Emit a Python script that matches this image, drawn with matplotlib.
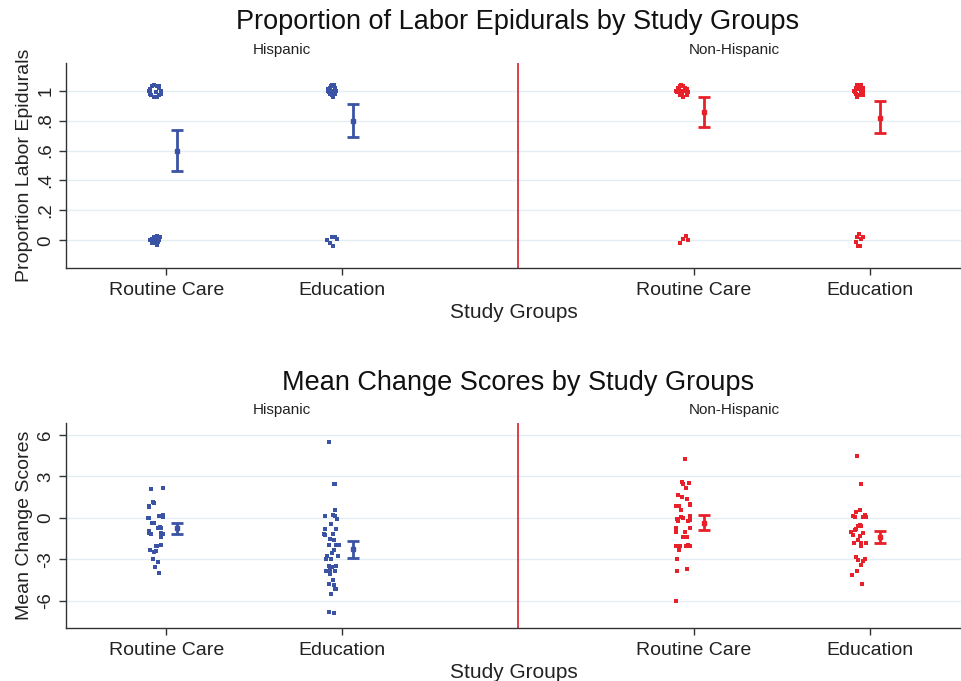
import matplotlib
matplotlib.use("Agg")
import matplotlib.pyplot as plt
import matplotlib.transforms as mtransforms

plt.rcParams['font.family'] = ['Liberation Sans', 'DejaVu Sans']

BLUE = '#3a53a4'
RED = '#e8202a'

group_labels = ['Routine Care', 'Education', 'Routine Care', 'Education']
group_pos = [1, 2, 4, 5]
ethnicity = ['Hispanic', 'Non-Hispanic']

# --- Top panel: proportion of labor epidurals (mean, CI low, CI high) ---
epi_mean = [0.60, 0.80, 0.86, 0.82]
epi_lo = [0.465, 0.688, 0.759, 0.715]
epi_hi = [0.737, 0.911, 0.956, 0.929]

# jittered raw 0/1 outcomes: (x jitter, y value)
epi_hrc_x = [-0.09, -0.08, -0.07, -0.05, -0.04, -0.03, -0.03, -0.04, -0.05, -0.07, -0.09, -0.095, -0.10, -0.085, -0.06, -0.04,
             -0.09, -0.08, -0.07, -0.06, -0.05, -0.04, -0.035, -0.05, -0.065, -0.08, -0.045, -0.055]
epi_hrc_y = [1.00, 1.03, 1.04, 1.03, 1.02, 1.00, 0.98, 0.97, 0.96, 0.96, 0.98, 1.01, 1.00, 0.97, 0.99, 1.03,
             0.00, 0.01, 0.02, 0.01, -0.01, 0.00, 0.02, 0.03, -0.02, -0.02, -0.01, -0.03]
epi_hed_x = [-0.08, -0.07, -0.06, -0.05, -0.04, -0.035, -0.04, -0.05, -0.06, -0.07, -0.08, -0.065, -0.055, -0.045, -0.075, -0.05,
             -0.085, -0.06, -0.04, -0.03, -0.07, -0.05]
epi_hed_y = [1.00, 1.02, 1.04, 1.03, 1.02, 1.00, 0.98, 0.96, 0.97, 0.98, 1.01, 1.03, 1.00, 1.04, 0.99, 0.97,
             0.00, 0.02, 0.02, 0.01, -0.02, -0.04]
epi_nrc_x = [-0.10, -0.09, -0.08, -0.07, -0.06, -0.05, -0.04, -0.035, -0.04, -0.06, -0.08, -0.095, -0.07, -0.05, -0.065, -0.085,
             -0.08, -0.06, -0.045, -0.03]
epi_nrc_y = [1.00, 1.02, 1.03, 1.04, 1.03, 1.02, 1.01, 0.99, 0.97, 0.96, 0.97, 0.99, 1.00, 1.00, 0.98, 1.01,
             -0.02, 0.01, 0.03, 0.00]
epi_ned_x = [-0.09, -0.08, -0.07, -0.06, -0.05, -0.04, -0.035, -0.045, -0.055, -0.07, -0.085, -0.06, -0.05, -0.075, -0.04,
             -0.07, -0.06, -0.05, -0.04, -0.075, -0.065, -0.055]
epi_ned_y = [1.00, 1.02, 1.04, 1.03, 1.04, 1.02, 1.00, 0.98, 0.97, 0.96, 0.99, 1.01, 1.00, 0.98, 0.97,
             0.02, 0.04, 0.01, 0.02, -0.01, -0.04, -0.04]

# --- Bottom panel: mean change scores ---
chg_mean = [-0.75, -2.24, -0.34, -1.35]
chg_lo = [-1.13, -2.92, -0.89, -1.83]
chg_hi = [-0.38, -1.64, 0.22, -0.92]

chg_hrc_x = [-0.089, -0.021, -0.076, -0.070, -0.098, -0.097, -0.040, -0.021, -0.019, -0.102, -0.097, -0.083, -0.072,
             -0.045, -0.036, -0.028, -0.100, -0.098, -0.089, -0.027, -0.021, -0.032, -0.061, -0.053, -0.027, -0.093,
             -0.070, -0.059, -0.078, -0.045, -0.066, -0.044]
chg_hrc_y = [2.07, 2.15, 1.16, 1.10, 0.87, 0.80, 0.15, 0.20, 0.05, 0.00, -0.03, -0.35, -0.40,
             -0.70, -0.66, -0.75, -0.95, -1.10, -1.13, -1.08, -1.13, -1.37, -2.00, -2.00, -1.94, -2.33,
             -2.45, -2.36, -2.97, -3.20, -3.54, -3.98]
chg_hed_x = [-0.076, -0.047, -0.042, -0.038, -0.095, -0.053, -0.042, -0.028, -0.061, -0.095, -0.032, -0.102, -0.095,
             -0.053, -0.066, -0.044, -0.076, -0.032, -0.019, -0.047, -0.057, -0.085, -0.025, -0.089, -0.063, -0.076,
             -0.057, -0.032, -0.089, -0.066, -0.042, -0.070, -0.051, -0.076, -0.044, -0.042, -0.036, -0.061, -0.076, -0.047]
chg_hed_y = [5.47, 2.47, 2.44, 0.58, 0.14, 0.18, 0.12, -0.07, -0.46, -0.80, -0.78, -1.16, -1.22,
             -1.16, -1.50, -1.56, -1.95, -1.92, -1.98, -2.30, -2.50, -2.75, -2.72, -3.00, -2.98, -3.50,
             -3.55, -3.48, -3.85, -3.75, -3.86, -4.05, -4.50, -4.80, -4.88, -5.17, -5.12, -5.50, -6.83, -6.90]
chg_nrc_x = [-0.047, -0.066, -0.061, -0.028, -0.042, -0.089, -0.066, -0.038, -0.023, -0.019, -0.099, -0.083, -0.070,
             -0.074, -0.061, -0.023, -0.095, -0.089, -0.032, -0.019, -0.099, -0.023, -0.102, -0.049, -0.061, -0.038,
             -0.080, -0.102, -0.042, -0.023, -0.032, -0.083, -0.098, -0.098, -0.040, -0.102]
chg_nrc_y = [4.24, 2.60, 2.45, 2.50, 2.15, 1.65, 1.55, 1.37, 1.00, 0.95, 0.85, 0.90, 0.60,
             0.10, 0.00, 0.15, -0.05, -0.25, -0.25, -0.15, -0.75, -0.75, -1.05, -1.02, -1.35, -1.35,
             -2.00, -2.05, -2.02, -2.05, -1.95, -2.30, -3.00, -3.85, -3.66, -5.98]
chg_ned_x = [-0.074, -0.047, -0.057, -0.076, -0.038, -0.095, -0.085, -0.028, -0.019, -0.057, -0.066, -0.047,
             -0.076, -0.085, -0.104, -0.095, -0.038, -0.057, -0.089, -0.066, -0.047, -0.023, -0.051, -0.080,
             -0.066, -0.028, -0.038, -0.047, -0.072, -0.100, -0.042]
chg_ned_y = [4.48, 2.48, 0.58, 0.45, 0.10, 0.14, 0.10, 0.18, 0.05, -0.50, -0.60, -0.55,
             -0.80, -0.90, -1.05, -1.25, -1.10, -1.30, -1.80, -1.60, -1.80, -1.80, -2.00, -2.85,
             -3.05, -2.95, -3.10, -3.40, -3.85, -4.10, -4.80]

fig = plt.figure(figsize=(9.61, 6.81), dpi=100)
ax1 = fig.add_axes([0.0687, 0.6065, 0.9313, 0.301])
ax2 = fig.add_axes([0.0687, 0.0783, 0.9313, 0.3007])


def style_axes(ax):
    for s in ['top', 'right']:
        ax.spines[s].set_visible(False)
    for s in ['left', 'bottom']:
        ax.spines[s].set_color('#333333')
        ax.spines[s].set_linewidth(1.0)
    ax.tick_params(axis='both', colors='#333333', labelcolor='#222222', length=5, width=1, labelsize=14)
    ax.tick_params(axis='x', pad=5)
    ax.tick_params(axis='y', labelsize=13.5)
    ax.grid(axis='y', color='#e3eef2', linewidth=1.0)
    ax.set_axisbelow(True)
    ax.set_xlim(0.43, 5.52)
    ax.set_xticks(group_pos)
    ax.set_xticklabels(group_labels)
    ax.axvline(3, color='#d42030', linewidth=1.2)
    trans = mtransforms.blended_transform_factory(ax.transData, ax.transAxes)
    ax.text(1.66, 1.063, ethnicity[0], transform=trans, ha='center', va='center', fontsize=11, color='#222222')
    ax.text(4.23, 1.063, ethnicity[1], transform=trans, ha='center', va='center', fontsize=11, color='#222222')
    for lbl in ax.get_yticklabels():
        lbl.set_rotation(90)
        lbl.set_va('center')


def draw_group(ax, pos, jx, jy, mean, lo, hi, color, ms):
    ax.scatter([pos + d for d in jx], jy, s=ms, marker='s', color=color, linewidths=0, zorder=3)
    ax.errorbar([pos + 0.06], [mean], yerr=[[mean - lo], [hi - mean]], fmt='s', color=color,
                ms=3.5, elinewidth=2.0, capsize=4, capthick=2.0, zorder=4)


colors = [BLUE, BLUE, RED, RED]
sizes = [8, 8, 5, 5]

top_x = [epi_hrc_x, epi_hed_x, epi_nrc_x, epi_ned_x]
top_y = [epi_hrc_y, epi_hed_y, epi_nrc_y, epi_ned_y]
for i in range(4):
    draw_group(ax1, group_pos[i], top_x[i], top_y[i], epi_mean[i], epi_lo[i], epi_hi[i], colors[i], sizes[i])
ax1.set_ylim(-0.185, 1.185)
ax1.set_yticks([0, 0.2, 0.4, 0.6, 0.8, 1])
ax1.set_yticklabels(['0', '.2', '.4', '.6', '.8', '1'])
style_axes(ax1)
ax1.set_ylabel('Proportion Labor Epidurals', fontsize=14, color='#222222', labelpad=3)
ax1.set_xlabel('Study Groups', fontsize=15, color='#222222', labelpad=3)

bot_x = [chg_hrc_x, chg_hed_x, chg_nrc_x, chg_ned_x]
bot_y = [chg_hrc_y, chg_hed_y, chg_nrc_y, chg_ned_y]
for i in range(4):
    draw_group(ax2, group_pos[i], bot_x[i], bot_y[i], chg_mean[i], chg_lo[i], chg_hi[i], colors[i], sizes[i])
ax2.set_ylim(-7.93, 6.87)
ax2.set_yticks([-6, -3, 0, 3, 6])
ax2.set_yticklabels(['-6', '-3', '0', '3', '6'])
style_axes(ax2)
ax2.set_ylabel('Mean Change Scores', fontsize=14, color='#222222', labelpad=3)
ax2.set_xlabel('Study Groups', fontsize=15, color='#222222', labelpad=3)

fig.text(0.539, 0.968, 'Proportion of Labor Epidurals by Study Groups', ha='center', va='center', fontsize=19.5, color='#111111')
fig.text(0.539, 0.437, 'Mean Change Scores by Study Groups', ha='center', va='center', fontsize=19.5, color='#111111')

fig.savefig('out.png', dpi=100)
